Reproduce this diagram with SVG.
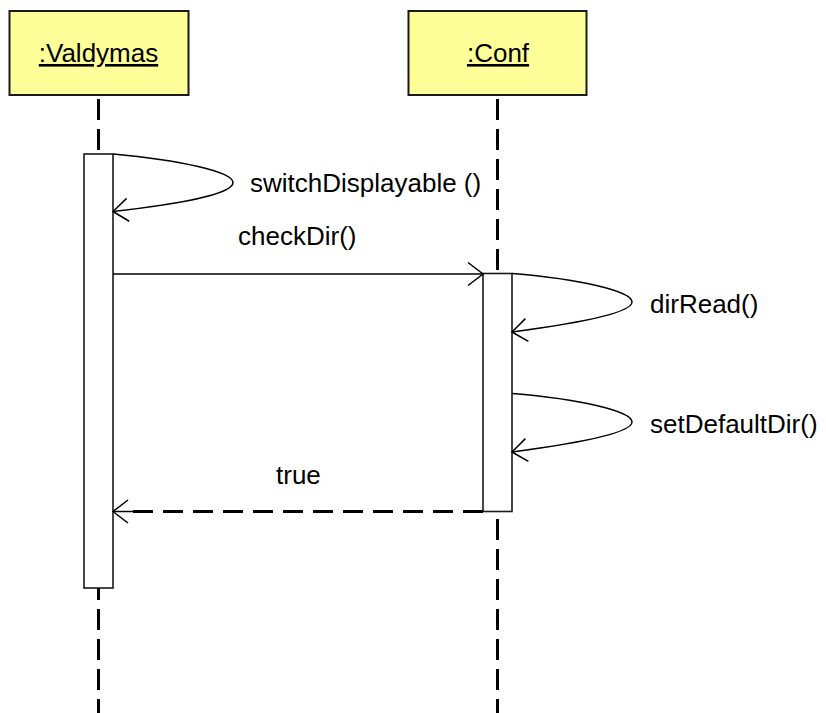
<svg xmlns="http://www.w3.org/2000/svg" width="826" height="713" viewBox="0 0 826 713">
  <style>
    .obj { fill: #FFFF99; stroke: #1a1a1a; stroke-width: 2; }
    .title { font-family: "Liberation Sans", Arial, sans-serif; font-size: 26px; fill: #000; text-anchor: middle; text-decoration: underline; }
    .lbl { font-family: "Liberation Sans", Arial, sans-serif; font-size: 26px; fill: #000; }
    .life { stroke: #000; stroke-width: 3; stroke-dasharray: 21 9; fill: none; }
    .act { fill: #fff; stroke: #1a1a1a; stroke-width: 1.6; }
    .msg { fill: none; stroke: #000; stroke-width: 1.5; }
    .ret { fill: none; stroke: #000; stroke-width: 3; stroke-dasharray: 20 10; }
  </style>
  <defs>
    <marker id="open" markerUnits="userSpaceOnUse" markerWidth="20" markerHeight="30" refX="0" refY="0" orient="auto" overflow="visible">
      <path d="M-15,-11.5 L0,0 L-15,11.5" fill="none" stroke="#000" stroke-width="1.5" stroke-dasharray="none"/>
    </marker>
  </defs>
  <rect width="826" height="713" fill="#fff"/>

  <!-- lifelines -->
  <g id="lifelines">
    <line class="life" x1="98.5" y1="99" x2="98.5" y2="713"/>
    <line class="life" x1="497.5" y1="99" x2="497.5" y2="713"/>
  </g>

  <!-- objects -->
  <g id="valdymas">
    <rect class="obj" x="9.5" y="11" width="179" height="84"/>
    <text class="title" x="98.5" y="62">:Valdymas</text>
    <rect class="act" x="84" y="154" width="29" height="434"/>
  </g>
  <g id="conf">
    <rect class="obj" x="408.5" y="11" width="178" height="84"/>
    <text class="title" x="498" y="62">:Conf</text>
    <rect class="act" x="483" y="273.5" width="29" height="238"/>
  </g>

  <!-- messages -->
  <g id="connectors">
    <path class="msg" d="M113,154 C180,160 233,172 233,182.5 C233,194 180,204 113,211.5" marker-end="url(#open)"/>
    <line class="msg" x1="113" y1="274" x2="483" y2="274" marker-end="url(#open)"/>
    <path class="msg" d="M512,273.5 C580,279 632,291 632,302 C632,313 580,323 512,332" marker-end="url(#open)"/>
    <path class="msg" d="M512,393.5 C580,399 632,411 632,422 C632,433 580,443 512,452" marker-end="url(#open)"/>
    <line class="ret" x1="483" y1="511.5" x2="133" y2="511.5"/>
    <line class="msg" x1="134" y1="511.5" x2="113" y2="511.5" marker-end="url(#open)"/>
  </g>

  <!-- message labels -->
  <g id="labels">
    <text class="lbl" x="250" y="192">switchDisplayable ()</text>
    <text class="lbl" x="238" y="245">checkDir()</text>
    <text class="lbl" x="650" y="313">dirRead()</text>
    <text class="lbl" x="650" y="433">setDefaultDir()</text>
    <text class="lbl" x="276" y="484">true</text>
  </g>
</svg>
